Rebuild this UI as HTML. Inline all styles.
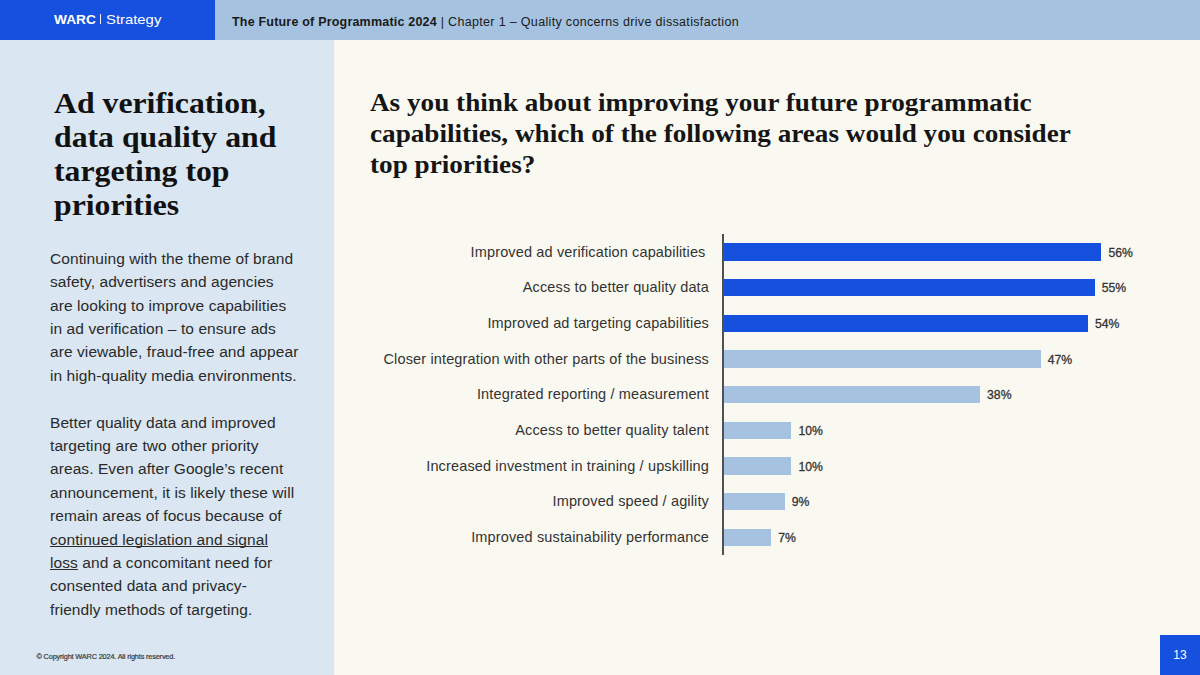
<!DOCTYPE html>
<html>
<head>
<meta charset="utf-8">
<style>
html,body{margin:0;padding:0;}
body{width:1200px;height:675px;position:relative;overflow:hidden;background:#FAF9F1;font-family:"Liberation Sans",sans-serif;}
div{position:absolute;}
#hdr{left:0;top:0;width:1200px;height:40px;background:#A5C3E0;}
#logo{left:0;top:0;width:215px;height:40px;background:#1650DE;}
#left{left:0;top:40px;width:334px;height:635px;background:#DAE6F1;}
.hl{font-size:12.5px;color:#fff;white-space:nowrap;}
.ht{font-size:12.5px;color:#1a1a1a;white-space:nowrap;}
#h1{left:54px;top:86px;font-family:"Liberation Serif",serif;font-weight:bold;font-size:29px;line-height:34px;transform:scaleX(1.095);transform-origin:0 0;color:#111;white-space:nowrap;}
#body{left:50px;top:246.8px;font-size:15.5px;line-height:23.4px;letter-spacing:0.08px;color:#2a2a2a;white-space:nowrap;}
#body u{text-decoration:underline;text-underline-offset:1px;text-decoration-thickness:1.2px;text-decoration-skip-ink:none;}
#copy{left:36.5px;top:652.2px;font-size:7.3px;letter-spacing:-0.15px;color:#3a3a3a;-webkit-text-stroke:0.2px #3a3a3a;white-space:nowrap;}
#q{left:370px;top:88px;font-family:"Liberation Serif",serif;font-weight:bold;font-size:25px;line-height:30.75px;transform:scaleX(1.087);transform-origin:0 0;color:#151515;white-space:nowrap;}
#axis{left:722.3px;top:234.3px;width:1.4px;height:320.5px;background:#505050;}
.lab{right:491px;font-size:14.5px;letter-spacing:0.14px;color:#333;white-space:nowrap;text-align:right;}
.bar{left:724px;height:17.4px;}
.hi{background:#1650DE;}
.lo{background:#A5C3E0;}
.pct{font-size:12.2px;color:#333;-webkit-text-stroke:0.3px #333;white-space:nowrap;}
#pg{left:1160px;top:635px;width:40px;height:40px;background:#1650DE;color:#fff;font-size:12px;text-align:center;line-height:40px;}
</style>
</head>
<body>
<div id="hdr"></div>
<div id="logo"></div>
<div class="hl" style="left:54px;top:11.5px;font-size:13.5px;transform:scaleX(1.015);transform-origin:0 0"><b>WARC</b></div><div style="left:100.2px;top:14px;width:1.3px;height:9.8px;background:#eef2ff"></div><div class="hl" style="left:105.8px;top:11.5px;font-size:13.5px;transform:scaleX(1.1);transform-origin:0 0">Strategy</div>
<div class="ht" style="left:232px;top:14.7px;"><b style="letter-spacing:0.2px">The Future of Programmatic 2024</b><span style="letter-spacing:0.33px"> | Chapter 1 – Quality concerns drive dissatisfaction</span></div>
<div id="left"></div>
<div id="h1">Ad verification,<br>data quality and<br>targeting top<br>priorities</div>
<div id="body">Continuing with the theme of brand<br>safety, advertisers and agencies<br>are looking to improve capabilities<br>in ad verification – to ensure ads<br>are viewable, fraud-free and appear<br>in high-quality media environments.<br><br>Better quality data and improved<br>targeting are two other priority<br>areas. Even after Google’s recent<br>announcement, it is likely these will<br>remain areas of focus because of<br><u>continued legislation and signal</u><br><u>loss</u> and a concomitant need for<br>consented data and privacy-<br>friendly methods of targeting.</div>
<div id="copy">© Copyright WARC 2024. All rights reserved.</div>
<div id="q">As you think about improving your future programmatic<br>capabilities, which of the following areas would you consider<br>top priorities?</div>
<div id="axis"></div>
<div class="lab" style="top:243.5px;padding-right:3.5px">Improved ad verification capabilities</div>
<div class="bar hi" style="top:243.2px;width:377.4px"></div>
<div class="pct" style="left:1108.4px;top:245.6px">56%</div>
<div class="lab" style="top:279.2px">Access to better quality data</div>
<div class="bar hi" style="top:278.9px;width:370.7px"></div>
<div class="pct" style="left:1101.7px;top:281.3px">55%</div>
<div class="lab" style="top:314.8px">Improved ad targeting capabilities</div>
<div class="bar hi" style="top:314.5px;width:364.0px"></div>
<div class="pct" style="left:1095.0px;top:316.9px">54%</div>
<div class="lab" style="top:350.5px">Closer integration with other parts of the business</div>
<div class="bar lo" style="top:350.2px;width:316.8px"></div>
<div class="pct" style="left:1047.8px;top:352.6px">47%</div>
<div class="lab" style="top:386.2px">Integrated reporting / measurement</div>
<div class="bar lo" style="top:385.9px;width:256.1px"></div>
<div class="pct" style="left:987.1px;top:388.3px">38%</div>
<div class="lab" style="top:421.9px">Access to better quality talent</div>
<div class="bar lo" style="top:421.6px;width:67.4px"></div>
<div class="pct" style="left:798.4px;top:423.9px">10%</div>
<div class="lab" style="top:457.5px">Increased investment in training / upskilling</div>
<div class="bar lo" style="top:457.2px;width:67.4px"></div>
<div class="pct" style="left:798.4px;top:459.6px">10%</div>
<div class="lab" style="top:493.2px">Improved speed / agility</div>
<div class="bar lo" style="top:492.9px;width:60.7px"></div>
<div class="pct" style="left:791.7px;top:495.3px">9%</div>
<div class="lab" style="top:528.9px">Improved sustainability performance</div>
<div class="bar lo" style="top:528.6px;width:47.2px"></div>
<div class="pct" style="left:778.2px;top:531.0px">7%</div>
<div id="pg">13</div>
</body>
</html>
